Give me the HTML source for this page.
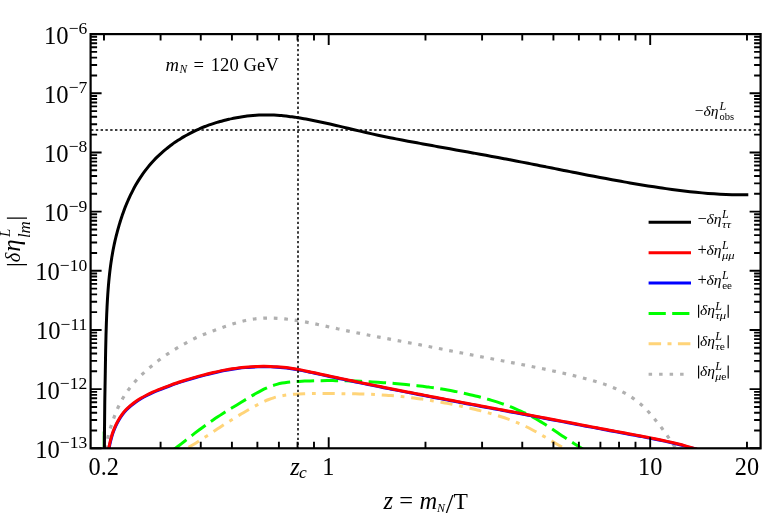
<!DOCTYPE html>
<html><head><meta charset="utf-8"><title>plot</title>
<style>html,body{margin:0;padding:0;background:#fff;}svg{display:block;will-change:transform;}text{font-family:"Liberation Serif",serif;fill:#000;}.i{font-style:italic;}</style>
</head><body>
<svg width="763" height="517" viewBox="0 0 763 517">
<rect x="0" y="0" width="763" height="517" fill="#fff"/>
<defs><clipPath id="cp"><rect x="90.60" y="34.10" width="670.00" height="414.80"/></clipPath></defs>
<g clip-path="url(#cp)" fill="none" stroke-linejoin="round">
<path d="M106.57 448.98 C106.68 447.58 106.84 443.37 107.27 440.60 C107.70 437.83 108.43 435.10 109.17 432.38 C109.91 429.66 110.81 426.97 111.69 424.29 C112.56 421.62 113.46 418.96 114.44 416.33 C115.43 413.70 116.45 411.09 117.60 408.52 C118.75 405.95 120.00 403.41 121.35 400.93 C122.71 398.45 124.17 396.01 125.72 393.66 C127.27 391.30 128.93 389.01 130.67 386.81 C132.41 384.61 134.26 382.50 136.16 380.44 C138.07 378.38 140.05 376.40 142.08 374.45 C144.10 372.50 146.19 370.60 148.31 368.75 C150.43 366.90 152.60 365.09 154.81 363.33 C157.02 361.58 159.27 359.87 161.55 358.21 C163.84 356.56 166.16 354.95 168.51 353.39 C170.86 351.84 173.24 350.34 175.65 348.89 C178.05 347.44 180.49 346.05 182.94 344.68 C185.40 343.30 187.88 341.92 190.39 340.63 C192.90 339.34 195.43 338.07 197.98 336.92 C200.54 335.76 203.12 334.73 205.72 333.70 C208.32 332.66 210.94 331.70 213.58 330.72 C216.21 329.73 218.86 328.74 221.53 327.79 C224.19 326.83 226.87 325.88 229.56 325.00 C232.25 324.12 234.96 323.26 237.68 322.50 C240.40 321.74 243.14 321.03 245.88 320.45 C248.63 319.86 251.40 319.36 254.17 318.99 C256.95 318.62 259.74 318.37 262.53 318.21 C265.33 318.06 268.14 318.02 270.94 318.06 C273.75 318.10 276.57 318.23 279.38 318.43 C282.18 318.63 285.00 318.91 287.80 319.24 C290.60 319.57 293.40 319.97 296.19 320.40 C298.97 320.83 301.75 321.31 304.52 321.81 C307.29 322.32 310.05 322.87 312.81 323.42 C315.57 323.98 318.32 324.57 321.07 325.16 C323.82 325.75 326.57 326.36 329.32 326.97 C332.07 327.57 334.82 328.17 337.57 328.77 C340.32 329.36 343.07 329.95 345.83 330.52 C348.58 331.10 351.34 331.67 354.10 332.23 C356.85 332.79 359.61 333.35 362.38 333.89 C365.14 334.44 367.90 334.98 370.66 335.52 C373.43 336.06 376.19 336.59 378.96 337.11 C381.72 337.64 384.49 338.16 387.26 338.68 C390.02 339.20 392.79 339.71 395.56 340.23 C398.33 340.75 401.10 341.26 403.86 341.78 C406.63 342.30 409.40 342.82 412.16 343.34 C414.93 343.86 417.69 344.39 420.45 344.92 C423.22 345.46 425.98 345.99 428.74 346.53 C431.50 347.07 434.26 347.62 437.02 348.16 C439.78 348.71 442.54 349.25 445.30 349.80 C448.06 350.34 450.82 350.89 453.59 351.43 C456.35 351.98 459.11 352.52 461.87 353.05 C464.64 353.59 467.40 354.12 470.17 354.65 C472.93 355.18 475.70 355.71 478.46 356.24 C481.23 356.77 484.00 357.29 486.76 357.82 C489.53 358.34 492.30 358.87 495.06 359.40 C497.83 359.92 500.60 360.45 503.36 360.98 C506.13 361.51 508.89 362.04 511.66 362.57 C514.42 363.10 517.19 363.64 519.95 364.18 C522.71 364.72 525.47 365.27 528.23 365.82 C530.99 366.37 533.75 366.92 536.50 367.48 C539.26 368.04 542.01 368.61 544.76 369.19 C547.52 369.76 550.27 370.34 553.01 370.94 C555.76 371.53 558.51 372.13 561.25 372.75 C563.99 373.36 566.74 373.99 569.48 374.64 C572.22 375.28 574.95 375.94 577.69 376.62 C580.43 377.30 583.17 377.99 585.89 378.72 C588.62 379.44 591.36 380.17 594.07 380.97 C596.78 381.76 599.48 382.58 602.15 383.47 C604.83 384.36 607.49 385.29 610.10 386.32 C612.72 387.34 615.31 388.42 617.85 389.61 C620.40 390.80 622.91 392.06 625.35 393.44 C627.80 394.82 630.21 396.30 632.53 397.88 C634.85 399.46 637.11 401.15 639.27 402.95 C641.43 404.74 643.50 406.66 645.49 408.65 C647.48 410.64 649.36 412.75 651.21 414.88 C653.06 417.00 654.84 419.20 656.60 421.40 C658.36 423.60 660.07 425.83 661.76 428.08 C663.44 430.33 665.09 432.61 666.71 434.90 C668.33 437.20 669.91 439.52 671.47 441.87 C673.03 444.21 675.29 447.78 676.06 448.96" stroke="#b0b0b0" stroke-width="3.2" stroke-dasharray="3.7 6.8" stroke-dashoffset="0.2"/>
<path d="M185.04 449.37 C185.78 448.95 188.02 447.68 189.50 446.81 C190.97 445.94 192.44 445.06 193.90 444.17 C195.36 443.28 196.82 442.37 198.26 441.46 C199.71 440.55 201.15 439.63 202.59 438.71 C204.03 437.78 205.46 436.85 206.90 435.92 C208.33 434.98 209.75 434.04 211.18 433.10 C212.61 432.16 214.03 431.22 215.46 430.28 C216.89 429.34 218.31 428.39 219.74 427.45 C221.17 426.52 222.60 425.58 224.04 424.65 C225.47 423.72 226.91 422.79 228.35 421.87 C229.79 420.95 231.24 420.04 232.70 419.14 C234.15 418.23 235.61 417.34 237.07 416.45 C238.54 415.56 240.01 414.68 241.49 413.81 C242.96 412.93 244.44 412.07 245.93 411.21 C247.42 410.35 248.91 409.50 250.41 408.66 C251.91 407.81 253.41 406.97 254.92 406.15 C256.43 405.33 257.95 404.51 259.48 403.74 C261.01 402.96 262.55 402.20 264.10 401.50 C265.65 400.79 267.22 400.11 268.80 399.50 C270.39 398.88 271.98 398.32 273.60 397.81 C275.22 397.31 276.86 396.88 278.51 396.49 C280.16 396.10 281.83 395.77 283.51 395.48 C285.18 395.19 286.88 394.96 288.57 394.75 C290.27 394.54 291.98 394.38 293.69 394.24 C295.40 394.10 297.11 394.00 298.83 393.91 C300.54 393.82 302.26 393.76 303.98 393.71 C305.69 393.65 307.41 393.62 309.12 393.59 C310.84 393.56 312.55 393.55 314.26 393.54 C315.98 393.53 317.69 393.53 319.40 393.54 C321.11 393.54 322.82 393.55 324.54 393.56 C326.25 393.56 327.96 393.57 329.67 393.58 C331.39 393.59 333.10 393.60 334.81 393.61 C336.53 393.62 338.24 393.63 339.95 393.64 C341.66 393.65 343.38 393.67 345.09 393.69 C346.80 393.70 348.52 393.72 350.23 393.75 C351.94 393.77 353.65 393.80 355.37 393.84 C357.08 393.87 358.79 393.91 360.50 393.95 C362.21 394.00 363.93 394.05 365.64 394.11 C367.35 394.17 369.06 394.23 370.77 394.31 C372.48 394.38 374.19 394.46 375.90 394.55 C377.61 394.64 379.31 394.74 381.02 394.85 C382.73 394.96 384.44 395.08 386.14 395.20 C387.85 395.33 389.55 395.46 391.26 395.61 C392.96 395.75 394.67 395.90 396.37 396.06 C398.08 396.22 399.78 396.39 401.48 396.57 C403.18 396.74 404.88 396.93 406.58 397.12 C408.28 397.32 409.98 397.52 411.68 397.73 C413.38 397.94 415.07 398.16 416.77 398.39 C418.47 398.62 420.16 398.85 421.85 399.10 C423.55 399.34 425.24 399.59 426.93 399.85 C428.63 400.11 430.32 400.38 432.01 400.65 C433.69 400.93 435.38 401.21 437.07 401.51 C438.76 401.80 440.44 402.10 442.13 402.40 C443.81 402.71 445.50 403.03 447.18 403.35 C448.86 403.67 450.54 404.00 452.22 404.34 C453.90 404.68 455.58 405.03 457.25 405.38 C458.93 405.73 460.60 406.09 462.28 406.46 C463.95 406.83 465.62 407.21 467.29 407.59 C468.96 407.97 470.63 408.36 472.30 408.76 C473.97 409.16 475.63 409.56 477.29 409.98 C478.96 410.39 480.62 410.81 482.28 411.24 C483.94 411.67 485.59 412.11 487.25 412.57 C488.90 413.02 490.55 413.48 492.19 413.96 C493.84 414.43 495.48 414.92 497.11 415.43 C498.74 415.93 500.37 416.45 502.00 416.99 C503.62 417.52 505.24 418.07 506.85 418.65 C508.45 419.22 510.06 419.80 511.65 420.41 C513.25 421.02 514.83 421.65 516.41 422.30 C517.99 422.95 519.56 423.63 521.12 424.32 C522.68 425.02 524.23 425.74 525.77 426.48 C527.31 427.23 528.83 428.00 530.35 428.79 C531.88 429.58 533.39 430.39 534.89 431.22 C536.39 432.04 537.89 432.89 539.38 433.74 C540.87 434.60 542.36 435.47 543.84 436.34 C545.32 437.21 546.80 438.09 548.27 438.97 C549.75 439.84 551.22 440.73 552.69 441.60 C554.17 442.48 555.64 443.36 557.11 444.22 C558.59 445.08 560.06 445.94 561.54 446.78 C563.02 447.62 565.25 448.85 565.99 449.26" stroke="#ffd479" stroke-width="3" stroke-dasharray="12.2 6.8 3.8 6.8" stroke-dashoffset="-4"/>
<path d="M172.50 450.31 C173.26 449.75 175.56 448.12 177.07 447.00 C178.58 445.88 180.07 444.74 181.56 443.59 C183.04 442.45 184.52 441.29 185.99 440.13 C187.47 438.97 188.94 437.81 190.41 436.65 C191.89 435.49 193.36 434.33 194.85 433.18 C196.34 432.04 197.83 430.90 199.34 429.77 C200.84 428.65 202.35 427.53 203.88 426.43 C205.40 425.33 206.93 424.24 208.47 423.16 C210.01 422.08 211.56 421.01 213.11 419.96 C214.67 418.90 216.23 417.86 217.80 416.83 C219.36 415.80 220.94 414.78 222.52 413.77 C224.10 412.76 225.68 411.77 227.27 410.78 C228.86 409.79 230.46 408.81 232.05 407.83 C233.65 406.85 235.25 405.88 236.86 404.91 C238.46 403.94 240.07 402.97 241.68 402.00 C243.29 401.03 244.90 400.06 246.51 399.08 C248.12 398.11 249.73 397.12 251.35 396.16 C252.98 395.19 254.60 394.22 256.24 393.30 C257.88 392.37 259.52 391.46 261.19 390.60 C262.86 389.74 264.55 388.91 266.26 388.16 C267.97 387.40 269.70 386.69 271.46 386.06 C273.21 385.42 274.99 384.85 276.79 384.35 C278.58 383.85 280.40 383.42 282.24 383.06 C284.07 382.70 285.92 382.44 287.78 382.21 C289.64 381.99 291.52 381.85 293.39 381.71 C295.27 381.58 297.15 381.48 299.03 381.39 C300.91 381.29 302.79 381.20 304.67 381.12 C306.56 381.04 308.44 380.97 310.32 380.91 C312.20 380.85 314.08 380.80 315.96 380.76 C317.84 380.72 319.72 380.68 321.60 380.66 C323.48 380.64 325.36 380.62 327.24 380.61 C329.12 380.61 331.00 380.61 332.87 380.62 C334.75 380.63 336.62 380.65 338.50 380.68 C340.38 380.70 342.25 380.74 344.12 380.78 C346.00 380.82 347.87 380.87 349.75 380.93 C351.62 380.99 353.49 381.05 355.37 381.12 C357.24 381.19 359.11 381.27 360.98 381.35 C362.86 381.44 364.73 381.53 366.60 381.63 C368.47 381.72 370.35 381.82 372.22 381.93 C374.09 382.04 375.96 382.15 377.84 382.27 C379.71 382.39 381.58 382.52 383.46 382.65 C385.33 382.78 387.20 382.91 389.08 383.05 C390.95 383.20 392.82 383.34 394.70 383.50 C396.57 383.65 398.44 383.81 400.32 383.98 C402.19 384.14 404.06 384.32 405.93 384.50 C407.80 384.68 409.67 384.87 411.54 385.07 C413.41 385.27 415.28 385.47 417.15 385.68 C419.02 385.90 420.89 386.12 422.75 386.35 C424.62 386.58 426.48 386.82 428.34 387.08 C430.20 387.33 432.07 387.59 433.92 387.86 C435.78 388.13 437.64 388.41 439.50 388.70 C441.35 388.99 443.20 389.29 445.06 389.60 C446.91 389.92 448.75 390.24 450.60 390.57 C452.45 390.91 454.29 391.26 456.13 391.62 C457.97 391.98 459.81 392.35 461.65 392.73 C463.48 393.12 465.32 393.52 467.14 393.93 C468.97 394.34 470.80 394.76 472.62 395.20 C474.45 395.64 476.27 396.09 478.08 396.56 C479.90 397.02 481.71 397.50 483.52 398.00 C485.33 398.50 487.13 399.01 488.93 399.53 C490.74 400.06 492.53 400.60 494.33 401.16 C496.12 401.71 497.91 402.29 499.69 402.88 C501.47 403.47 503.25 404.08 505.01 404.72 C506.78 405.35 508.54 406.00 510.29 406.68 C512.05 407.36 513.79 408.06 515.52 408.78 C517.25 409.51 518.97 410.26 520.68 411.04 C522.39 411.82 524.09 412.63 525.77 413.46 C527.46 414.30 529.13 415.16 530.79 416.04 C532.44 416.93 534.09 417.84 535.72 418.77 C537.35 419.70 538.97 420.65 540.58 421.63 C542.18 422.60 543.77 423.60 545.35 424.61 C546.93 425.62 548.49 426.65 550.06 427.68 C551.62 428.71 553.17 429.76 554.73 430.81 C556.28 431.85 557.83 432.91 559.39 433.95 C560.94 435.00 562.50 436.05 564.07 437.08 C565.63 438.11 567.21 439.14 568.79 440.15 C570.37 441.16 571.96 442.16 573.55 443.17 C575.14 444.17 576.73 445.17 578.31 446.18 C579.89 447.20 582.24 448.75 583.03 449.26" stroke="#00ff00" stroke-width="3" stroke-dasharray="17.5 6.5"/>
<path d="M108.57 450.08 C108.75 449.03 109.22 445.90 109.65 443.81 C110.08 441.72 110.58 439.61 111.16 437.53 C111.75 435.46 112.40 433.38 113.14 431.36 C113.88 429.33 114.70 427.32 115.60 425.37 C116.51 423.43 117.49 421.52 118.57 419.69 C119.65 417.86 120.81 416.07 122.06 414.39 C123.32 412.71 124.68 411.10 126.11 409.59 C127.55 408.07 129.08 406.65 130.68 405.30 C132.28 403.95 133.97 402.69 135.70 401.48 C137.43 400.27 139.24 399.14 141.08 398.06 C142.91 396.98 144.81 395.97 146.73 394.99 C148.65 394.02 150.61 393.10 152.58 392.21 C154.55 391.32 156.55 390.48 158.54 389.66 C160.53 388.84 162.53 388.05 164.53 387.28 C166.53 386.51 168.54 385.77 170.54 385.05 C172.55 384.33 174.56 383.64 176.58 382.96 C178.59 382.28 180.61 381.63 182.63 380.99 C184.66 380.35 186.68 379.73 188.71 379.12 C190.75 378.52 192.78 377.93 194.83 377.35 C196.87 376.77 198.91 376.20 200.97 375.65 C203.02 375.10 205.08 374.56 207.14 374.03 C209.21 373.51 211.28 373.00 213.35 372.51 C215.43 372.02 217.51 371.55 219.59 371.11 C221.68 370.66 223.77 370.24 225.87 369.85 C227.96 369.46 230.06 369.09 232.17 368.76 C234.28 368.43 236.39 368.13 238.51 367.87 C240.63 367.60 242.75 367.37 244.87 367.17 C247.00 366.98 249.13 366.81 251.26 366.68 C253.39 366.55 255.52 366.45 257.65 366.39 C259.79 366.32 261.92 366.29 264.05 366.30 C266.19 366.30 268.32 366.34 270.45 366.41 C272.58 366.48 274.71 366.58 276.84 366.72 C278.96 366.86 281.09 367.03 283.21 367.24 C285.32 367.44 287.44 367.69 289.55 367.97 C291.66 368.26 293.76 368.59 295.86 368.95 C297.95 369.31 300.04 369.73 302.13 370.15 C304.22 370.57 306.30 371.03 308.39 371.48 C310.47 371.93 312.55 372.39 314.63 372.84 C316.72 373.30 318.80 373.75 320.88 374.20 C322.97 374.65 325.05 375.10 327.13 375.55 C329.22 376.00 331.30 376.44 333.39 376.89 C335.47 377.33 337.56 377.77 339.64 378.21 C341.73 378.65 343.81 379.09 345.90 379.53 C347.99 379.96 350.07 380.40 352.16 380.83 C354.25 381.26 356.33 381.69 358.42 382.12 C360.51 382.55 362.60 382.98 364.68 383.41 C366.77 383.83 368.86 384.26 370.95 384.68 C373.04 385.11 375.12 385.53 377.21 385.95 C379.30 386.37 381.39 386.79 383.48 387.21 C385.57 387.62 387.66 388.04 389.75 388.46 C391.84 388.87 393.93 389.28 396.02 389.70 C398.11 390.11 400.20 390.52 402.30 390.93 C404.39 391.34 406.48 391.75 408.57 392.16 C410.66 392.57 412.75 392.97 414.85 393.38 C416.94 393.78 419.03 394.19 421.12 394.59 C423.21 395.00 425.31 395.40 427.40 395.80 C429.49 396.20 431.59 396.61 433.68 397.01 C435.77 397.41 437.87 397.81 439.96 398.20 C442.05 398.60 444.15 399.00 446.24 399.40 C448.33 399.80 450.43 400.19 452.52 400.59 C454.62 400.99 456.71 401.38 458.80 401.78 C460.90 402.17 462.99 402.57 465.09 402.96 C467.18 403.36 469.28 403.75 471.37 404.14 C473.47 404.54 475.56 404.93 477.65 405.32 C479.75 405.72 481.84 406.11 483.94 406.50 C486.03 406.90 488.13 407.29 490.22 407.68 C492.32 408.07 494.41 408.47 496.51 408.86 C498.60 409.25 500.70 409.64 502.79 410.03 C504.89 410.43 506.98 410.82 509.08 411.21 C511.17 411.60 513.27 412.00 515.36 412.39 C517.46 412.78 519.55 413.17 521.64 413.57 C523.74 413.96 525.83 414.35 527.93 414.75 C530.02 415.14 532.12 415.53 534.21 415.93 C536.31 416.32 538.40 416.72 540.49 417.11 C542.59 417.51 544.68 417.90 546.78 418.30 C548.87 418.70 550.96 419.09 553.06 419.49 C555.15 419.89 557.24 420.29 559.34 420.68 C561.43 421.08 563.52 421.48 565.62 421.88 C567.71 422.28 569.80 422.67 571.90 423.07 C573.99 423.47 576.08 423.87 578.18 424.27 C580.27 424.67 582.36 425.06 584.46 425.46 C586.55 425.86 588.65 426.26 590.74 426.65 C592.83 427.05 594.93 427.45 597.02 427.84 C599.11 428.24 601.21 428.63 603.30 429.03 C605.40 429.42 607.49 429.81 609.59 430.21 C611.68 430.60 613.78 430.99 615.87 431.38 C617.97 431.77 620.07 432.16 622.16 432.55 C624.26 432.93 626.35 433.32 628.45 433.71 C630.55 434.09 632.64 434.48 634.74 434.87 C636.84 435.26 638.93 435.65 641.03 436.04 C643.12 436.44 645.21 436.83 647.31 437.24 C649.40 437.65 651.49 438.05 653.58 438.47 C655.67 438.89 657.76 439.32 659.84 439.76 C661.93 440.20 664.01 440.64 666.09 441.10 C668.17 441.56 670.24 442.04 672.32 442.52 C674.39 443.01 676.46 443.51 678.53 444.03 C680.60 444.54 682.66 445.07 684.72 445.63 C686.78 446.18 688.83 446.74 690.88 447.33 C692.93 447.92 695.99 448.86 697.02 449.16" stroke="#0000ff" stroke-width="3" transform="translate(0.25,0.45)"/>
<path d="M108.57 450.08 C108.75 449.03 109.22 445.90 109.65 443.81 C110.08 441.72 110.58 439.61 111.16 437.53 C111.75 435.46 112.40 433.38 113.14 431.36 C113.88 429.33 114.70 427.32 115.60 425.37 C116.51 423.43 117.49 421.52 118.57 419.69 C119.65 417.86 120.81 416.07 122.06 414.39 C123.32 412.71 124.68 411.10 126.11 409.59 C127.55 408.07 129.08 406.65 130.68 405.30 C132.28 403.95 133.97 402.69 135.70 401.48 C137.43 400.27 139.24 399.14 141.08 398.06 C142.91 396.98 144.81 395.97 146.73 394.99 C148.65 394.02 150.61 393.10 152.58 392.21 C154.55 391.32 156.55 390.48 158.54 389.66 C160.53 388.84 162.53 388.05 164.53 387.28 C166.53 386.51 168.54 385.77 170.54 385.05 C172.55 384.33 174.56 383.64 176.58 382.96 C178.59 382.28 180.61 381.63 182.63 380.99 C184.66 380.35 186.68 379.73 188.71 379.12 C190.75 378.52 192.78 377.93 194.83 377.35 C196.87 376.77 198.91 376.20 200.97 375.65 C203.02 375.10 205.08 374.56 207.14 374.03 C209.21 373.51 211.28 373.00 213.35 372.51 C215.43 372.02 217.51 371.55 219.59 371.11 C221.68 370.66 223.77 370.24 225.87 369.85 C227.96 369.46 230.06 369.09 232.17 368.76 C234.28 368.43 236.39 368.13 238.51 367.87 C240.63 367.60 242.75 367.37 244.87 367.17 C247.00 366.98 249.13 366.81 251.26 366.68 C253.39 366.55 255.52 366.45 257.65 366.39 C259.79 366.32 261.92 366.29 264.05 366.30 C266.19 366.30 268.32 366.34 270.45 366.41 C272.58 366.48 274.71 366.58 276.84 366.72 C278.96 366.86 281.09 367.03 283.21 367.24 C285.32 367.44 287.44 367.69 289.55 367.97 C291.66 368.26 293.76 368.59 295.86 368.95 C297.95 369.31 300.04 369.73 302.13 370.15 C304.22 370.57 306.30 371.03 308.39 371.48 C310.47 371.93 312.55 372.39 314.63 372.84 C316.72 373.30 318.80 373.75 320.88 374.20 C322.97 374.65 325.05 375.10 327.13 375.55 C329.22 376.00 331.30 376.44 333.39 376.89 C335.47 377.33 337.56 377.77 339.64 378.21 C341.73 378.65 343.81 379.09 345.90 379.53 C347.99 379.96 350.07 380.40 352.16 380.83 C354.25 381.26 356.33 381.69 358.42 382.12 C360.51 382.55 362.60 382.98 364.68 383.41 C366.77 383.83 368.86 384.26 370.95 384.68 C373.04 385.11 375.12 385.53 377.21 385.95 C379.30 386.37 381.39 386.79 383.48 387.21 C385.57 387.62 387.66 388.04 389.75 388.46 C391.84 388.87 393.93 389.28 396.02 389.70 C398.11 390.11 400.20 390.52 402.30 390.93 C404.39 391.34 406.48 391.75 408.57 392.16 C410.66 392.57 412.75 392.97 414.85 393.38 C416.94 393.78 419.03 394.19 421.12 394.59 C423.21 395.00 425.31 395.40 427.40 395.80 C429.49 396.20 431.59 396.61 433.68 397.01 C435.77 397.41 437.87 397.81 439.96 398.20 C442.05 398.60 444.15 399.00 446.24 399.40 C448.33 399.80 450.43 400.19 452.52 400.59 C454.62 400.99 456.71 401.38 458.80 401.78 C460.90 402.17 462.99 402.57 465.09 402.96 C467.18 403.36 469.28 403.75 471.37 404.14 C473.47 404.54 475.56 404.93 477.65 405.32 C479.75 405.72 481.84 406.11 483.94 406.50 C486.03 406.90 488.13 407.29 490.22 407.68 C492.32 408.07 494.41 408.47 496.51 408.86 C498.60 409.25 500.70 409.64 502.79 410.03 C504.89 410.43 506.98 410.82 509.08 411.21 C511.17 411.60 513.27 412.00 515.36 412.39 C517.46 412.78 519.55 413.17 521.64 413.57 C523.74 413.96 525.83 414.35 527.93 414.75 C530.02 415.14 532.12 415.53 534.21 415.93 C536.31 416.32 538.40 416.72 540.49 417.11 C542.59 417.51 544.68 417.90 546.78 418.30 C548.87 418.70 550.96 419.09 553.06 419.49 C555.15 419.89 557.24 420.29 559.34 420.68 C561.43 421.08 563.52 421.48 565.62 421.88 C567.71 422.28 569.80 422.67 571.90 423.07 C573.99 423.47 576.08 423.87 578.18 424.27 C580.27 424.67 582.36 425.06 584.46 425.46 C586.55 425.86 588.65 426.26 590.74 426.65 C592.83 427.05 594.93 427.45 597.02 427.84 C599.11 428.24 601.21 428.63 603.30 429.03 C605.40 429.42 607.49 429.81 609.59 430.21 C611.68 430.60 613.78 430.99 615.87 431.38 C617.97 431.77 620.07 432.16 622.16 432.55 C624.26 432.93 626.35 433.32 628.45 433.71 C630.55 434.09 632.64 434.48 634.74 434.87 C636.84 435.26 638.93 435.65 641.03 436.04 C643.12 436.44 645.21 436.83 647.31 437.24 C649.40 437.65 651.49 438.05 653.58 438.47 C655.67 438.89 657.76 439.32 659.84 439.76 C661.93 440.20 664.01 440.64 666.09 441.10 C668.17 441.56 670.24 442.04 672.32 442.52 C674.39 443.01 676.46 443.51 678.53 444.03 C680.60 444.54 682.66 445.07 684.72 445.63 C686.78 446.18 688.83 446.74 690.88 447.33 C692.93 447.92 695.99 448.86 697.02 449.16" stroke="#ff0000" stroke-width="3"/>
<path d="M102.7 431.5 V448" stroke="#00e000" stroke-width="0.7" opacity="0.55"/>
<path d="M104.40 450.00 C104.40 449.00 104.42 446.00 104.43 444.00 C104.44 442.00 104.45 440.00 104.46 438.00 C104.47 436.00 104.48 434.00 104.49 432.00 C104.50 430.00 104.52 428.00 104.54 426.00 C104.56 424.00 104.58 422.00 104.60 420.00 C104.62 418.00 104.64 416.00 104.66 414.00 C104.68 412.00 104.70 410.00 104.72 408.00 C104.74 406.00 104.75 404.00 104.78 402.00 C104.81 400.00 104.84 398.00 104.87 396.00 C104.90 394.00 104.94 392.00 104.98 390.00 C105.01 388.00 105.05 386.00 105.08 384.00 C105.12 382.00 105.16 380.00 105.19 378.00 C105.23 376.00 105.28 373.02 105.30 372.00 C105.32 370.98 105.24 375.49 105.30 371.91 C105.36 368.32 105.53 356.58 105.65 350.47 C105.77 344.37 105.88 339.73 106.00 335.27 C106.12 330.80 106.23 327.16 106.35 323.70 C106.47 320.23 106.58 317.27 106.70 314.46 C106.82 311.65 106.93 309.19 107.05 306.84 C107.17 304.49 107.28 302.38 107.40 300.37 C107.52 298.36 107.63 296.53 107.75 294.77 C107.87 293.02 107.98 291.40 108.10 289.84 C108.22 288.29 108.33 286.84 108.45 285.44 C108.57 284.05 108.68 282.74 108.80 281.47 C108.92 280.20 109.03 279.01 109.15 277.85 C109.27 276.69 109.38 275.59 109.50 274.52 C109.62 273.45 109.73 272.43 109.85 271.44 C109.97 270.45 110.08 269.49 110.20 268.57 C110.32 267.64 110.43 266.75 110.55 265.88 C110.67 265.01 110.78 264.17 110.90 263.35 C111.02 262.53 111.13 261.73 111.25 260.95 C111.37 260.18 111.48 259.42 111.60 258.68 C111.72 257.95 111.88 256.93 111.95 256.52 C112.02 256.11 111.82 257.21 112.00 256.22 C112.18 255.23 112.67 252.37 113.00 250.58 C113.33 248.80 113.67 247.14 114.00 245.53 C114.33 243.93 114.67 242.41 115.00 240.94 C115.33 239.47 115.67 238.07 116.00 236.71 C116.33 235.34 116.67 234.04 117.00 232.77 C117.33 231.50 117.67 230.27 118.00 229.07 C118.33 227.88 118.67 226.72 119.00 225.58 C119.33 224.45 119.67 223.35 120.00 222.27 C120.33 221.20 120.67 220.15 121.00 219.12 C121.33 218.09 121.67 217.09 122.00 216.11 C122.33 215.12 122.67 214.17 123.00 213.23 C123.33 212.29 123.67 211.37 124.00 210.47 C124.33 209.57 124.67 208.70 125.00 207.83 C125.33 206.97 125.67 206.13 126.00 205.30 C126.33 204.48 126.67 203.67 127.00 202.87 C127.33 202.08 127.67 201.30 128.00 200.54 C128.33 199.77 128.67 199.03 129.00 198.29 C129.33 197.55 129.33 197.49 130.00 196.12 C130.67 194.76 132.00 191.99 133.00 190.08 C134.00 188.16 135.00 186.35 136.00 184.61 C137.00 182.88 138.00 181.24 139.00 179.65 C140.00 178.07 141.00 176.57 142.00 175.12 C143.00 173.67 144.00 172.29 145.00 170.95 C146.00 169.62 147.00 168.35 148.00 167.11 C149.00 165.88 150.00 164.70 151.00 163.56 C152.00 162.41 153.00 161.32 154.00 160.25 C155.00 159.19 156.00 158.17 157.00 157.18 C158.00 156.18 159.00 155.23 160.00 154.30 C161.00 153.37 162.00 152.48 163.00 151.61 C164.00 150.74 165.00 149.90 166.00 149.08 C167.00 148.26 168.00 147.47 169.00 146.70 C170.00 145.93 171.00 145.18 172.00 144.46 C173.00 143.73 174.00 143.03 175.00 142.34 C176.00 141.66 177.00 140.99 178.00 140.34 C179.00 139.69 180.00 139.06 181.00 138.45 C182.00 137.83 183.00 137.24 184.00 136.65 C185.00 136.07 186.00 135.50 187.00 134.95 C188.00 134.40 189.00 133.86 190.00 133.34 C191.00 132.82 192.00 132.31 193.00 131.81 C194.00 131.32 195.00 130.84 196.00 130.37 C197.00 129.91 198.00 129.45 199.00 129.01 C200.00 128.57 201.00 128.15 202.00 127.73 C203.00 127.32 204.00 126.91 205.00 126.52 C206.00 126.13 207.00 125.76 208.00 125.39 C209.00 125.02 210.00 124.67 211.00 124.32 C212.00 123.98 213.00 123.65 214.00 123.33 C215.00 123.00 216.00 122.69 217.00 122.39 C218.00 122.09 219.00 121.80 220.00 121.52 C221.00 121.24 222.00 120.97 223.00 120.71 C224.00 120.45 225.00 120.19 226.00 119.95 C227.00 119.71 228.00 119.47 229.00 119.25 C230.00 119.02 231.00 118.81 232.00 118.60 C233.00 118.39 234.00 118.19 235.00 118.00 C236.00 117.81 237.00 117.63 238.00 117.45 C239.00 117.28 240.00 117.11 241.00 116.96 C242.00 116.80 243.00 116.65 244.00 116.51 C245.00 116.37 246.00 116.23 247.00 116.11 C248.00 115.99 249.00 115.88 250.00 115.77 C251.00 115.67 252.00 115.57 253.00 115.48 C254.00 115.40 255.00 115.32 256.00 115.25 C257.00 115.19 258.00 115.13 259.00 115.08 C260.00 115.03 261.00 114.99 262.00 114.96 C263.00 114.93 264.00 114.91 265.00 114.90 C266.00 114.89 267.00 114.89 268.00 114.89 C269.00 114.90 270.00 114.92 271.00 114.95 C272.00 114.97 273.00 115.01 274.00 115.05 C275.00 115.10 276.00 115.15 277.00 115.22 C278.00 115.28 279.00 115.35 280.00 115.43 C281.00 115.52 282.00 115.61 283.00 115.70 C284.00 115.80 285.00 115.91 286.00 116.02 C287.00 116.14 288.00 116.26 289.00 116.39 C290.00 116.51 291.00 116.65 292.00 116.79 C293.00 116.93 294.00 117.08 295.00 117.23 C296.00 117.38 297.17 117.57 298.00 117.70 C298.83 117.83 298.67 117.80 300.00 118.03 C301.33 118.26 304.00 118.73 306.00 119.10 C308.00 119.47 310.00 119.85 312.00 120.25 C314.00 120.65 316.00 121.06 318.00 121.48 C320.00 121.89 322.00 122.32 324.00 122.76 C326.00 123.19 328.00 123.63 330.00 124.08 C332.00 124.53 334.00 124.98 336.00 125.44 C338.00 125.91 340.00 126.38 342.00 126.85 C344.00 127.32 346.00 127.80 348.00 128.28 C350.00 128.76 352.00 129.24 354.00 129.71 C356.00 130.19 358.00 130.66 360.00 131.13 C362.00 131.60 364.00 132.07 366.00 132.53 C368.00 132.99 370.00 133.44 372.00 133.89 C374.00 134.33 376.00 134.77 378.00 135.20 C380.00 135.63 382.00 136.06 384.00 136.47 C386.00 136.89 388.00 137.30 390.00 137.70 C392.00 138.10 394.00 138.49 396.00 138.89 C398.00 139.28 400.00 139.66 402.00 140.04 C404.00 140.42 406.00 140.80 408.00 141.17 C410.00 141.54 412.00 141.91 414.00 142.28 C416.00 142.65 418.00 143.02 420.00 143.39 C422.00 143.76 424.00 144.12 426.00 144.49 C428.00 144.85 430.00 145.22 432.00 145.58 C434.00 145.94 436.00 146.31 438.00 146.67 C440.00 147.03 442.00 147.39 444.00 147.75 C446.00 148.11 448.00 148.47 450.00 148.83 C452.00 149.19 454.00 149.55 456.00 149.91 C458.00 150.27 460.00 150.63 462.00 150.99 C464.00 151.35 466.00 151.71 468.00 152.07 C470.00 152.43 472.00 152.79 474.00 153.15 C476.00 153.52 478.00 153.88 480.00 154.24 C482.00 154.61 484.00 154.97 486.00 155.34 C488.00 155.70 490.00 156.07 492.00 156.44 C494.00 156.81 496.00 157.18 498.00 157.56 C500.00 157.93 502.00 158.30 504.00 158.68 C506.00 159.06 508.00 159.43 510.00 159.82 C512.00 160.20 514.00 160.58 516.00 160.97 C518.00 161.35 520.00 161.74 522.00 162.13 C524.00 162.52 526.00 162.91 528.00 163.30 C530.00 163.69 532.00 164.09 534.00 164.48 C536.00 164.88 538.00 165.27 540.00 165.67 C542.00 166.06 544.00 166.46 546.00 166.86 C548.00 167.26 550.00 167.66 552.00 168.05 C554.00 168.45 556.00 168.85 558.00 169.25 C560.00 169.64 562.00 170.04 564.00 170.44 C566.00 170.84 568.00 171.23 570.00 171.63 C572.00 172.02 574.00 172.42 576.00 172.81 C578.00 173.21 580.00 173.60 582.00 173.99 C584.00 174.38 586.00 174.77 588.00 175.16 C590.00 175.54 592.00 175.93 594.00 176.31 C596.00 176.70 598.00 177.08 600.00 177.46 C602.00 177.83 604.00 178.21 606.00 178.58 C608.00 178.96 610.00 179.33 612.00 179.69 C614.00 180.06 616.00 180.43 618.00 180.79 C620.00 181.15 622.00 181.50 624.00 181.86 C626.00 182.21 628.00 182.56 630.00 182.91 C632.00 183.25 634.00 183.59 636.00 183.93 C638.00 184.27 640.00 184.60 642.00 184.93 C644.00 185.25 646.00 185.58 648.00 185.90 C650.00 186.21 652.00 186.53 654.00 186.83 C656.00 187.14 658.00 187.44 660.00 187.74 C662.00 188.03 664.00 188.33 666.00 188.61 C668.00 188.89 670.00 189.17 672.00 189.44 C674.00 189.71 676.00 189.98 678.00 190.24 C680.00 190.49 682.00 190.74 684.00 190.98 C686.00 191.22 688.00 191.45 690.00 191.67 C692.00 191.89 694.00 192.11 696.00 192.31 C698.00 192.51 700.00 192.70 702.00 192.88 C704.00 193.06 706.00 193.23 708.00 193.39 C710.00 193.54 712.00 193.69 714.00 193.82 C716.00 193.95 718.00 194.07 720.00 194.17 C722.00 194.28 724.00 194.37 726.00 194.45 C728.00 194.52 730.00 194.59 732.00 194.64 C734.00 194.69 736.00 194.73 738.00 194.75 C740.00 194.77 742.28 194.78 744.00 194.78 C745.72 194.77 747.58 194.75 748.30 194.74" stroke="#000" stroke-width="3"/>
</g>
<g stroke="#000" stroke-width="1.5" stroke-dasharray="2.4 2.4" stroke-dashoffset="-0.4" fill="none">
<path d="M90.60 130.00 H760.60"/>
<path d="M298.00 34.10 V448.30"/>
</g>
<path d="M90.60 34.10 h11.0 M760.60 34.10 h-11.0 M90.60 75.46 h6.5 M760.60 75.46 h-6.5 M90.60 65.04 h6.5 M760.60 65.04 h-6.5 M90.60 57.65 h6.5 M760.60 57.65 h-6.5 M90.60 51.91 h6.5 M760.60 51.91 h-6.5 M90.60 47.23 h6.5 M760.60 47.23 h-6.5 M90.60 43.27 h6.5 M760.60 43.27 h-6.5 M90.60 39.83 h6.5 M760.60 39.83 h-6.5 M90.60 36.81 h6.5 M760.60 36.81 h-6.5 M90.60 93.27 h11.0 M760.60 93.27 h-11.0 M90.60 134.63 h6.5 M760.60 134.63 h-6.5 M90.60 124.21 h6.5 M760.60 124.21 h-6.5 M90.60 116.82 h6.5 M760.60 116.82 h-6.5 M90.60 111.08 h6.5 M760.60 111.08 h-6.5 M90.60 106.40 h6.5 M760.60 106.40 h-6.5 M90.60 102.44 h6.5 M760.60 102.44 h-6.5 M90.60 99.01 h6.5 M760.60 99.01 h-6.5 M90.60 95.98 h6.5 M760.60 95.98 h-6.5 M90.60 152.44 h11.0 M760.60 152.44 h-11.0 M90.60 193.80 h6.5 M760.60 193.80 h-6.5 M90.60 183.38 h6.5 M760.60 183.38 h-6.5 M90.60 175.99 h6.5 M760.60 175.99 h-6.5 M90.60 170.26 h6.5 M760.60 170.26 h-6.5 M90.60 165.57 h6.5 M760.60 165.57 h-6.5 M90.60 161.61 h6.5 M760.60 161.61 h-6.5 M90.60 158.18 h6.5 M760.60 158.18 h-6.5 M90.60 155.15 h6.5 M760.60 155.15 h-6.5 M90.60 211.61 h11.0 M760.60 211.61 h-11.0 M90.60 252.97 h6.5 M760.60 252.97 h-6.5 M90.60 242.55 h6.5 M760.60 242.55 h-6.5 M90.60 235.16 h6.5 M760.60 235.16 h-6.5 M90.60 229.43 h6.5 M760.60 229.43 h-6.5 M90.60 224.74 h6.5 M760.60 224.74 h-6.5 M90.60 220.78 h6.5 M760.60 220.78 h-6.5 M90.60 217.35 h6.5 M760.60 217.35 h-6.5 M90.60 214.32 h6.5 M760.60 214.32 h-6.5 M90.60 270.79 h11.0 M760.60 270.79 h-11.0 M90.60 312.14 h6.5 M760.60 312.14 h-6.5 M90.60 301.73 h6.5 M760.60 301.73 h-6.5 M90.60 294.33 h6.5 M760.60 294.33 h-6.5 M90.60 288.60 h6.5 M760.60 288.60 h-6.5 M90.60 283.91 h6.5 M760.60 283.91 h-6.5 M90.60 279.95 h6.5 M760.60 279.95 h-6.5 M90.60 276.52 h6.5 M760.60 276.52 h-6.5 M90.60 273.49 h6.5 M760.60 273.49 h-6.5 M90.60 329.96 h11.0 M760.60 329.96 h-11.0 M90.60 371.32 h6.5 M760.60 371.32 h-6.5 M90.60 360.90 h6.5 M760.60 360.90 h-6.5 M90.60 353.50 h6.5 M760.60 353.50 h-6.5 M90.60 347.77 h6.5 M760.60 347.77 h-6.5 M90.60 343.08 h6.5 M760.60 343.08 h-6.5 M90.60 339.12 h6.5 M760.60 339.12 h-6.5 M90.60 335.69 h6.5 M760.60 335.69 h-6.5 M90.60 332.66 h6.5 M760.60 332.66 h-6.5 M90.60 389.13 h11.0 M760.60 389.13 h-11.0 M90.60 430.49 h6.5 M760.60 430.49 h-6.5 M90.60 420.07 h6.5 M760.60 420.07 h-6.5 M90.60 412.68 h6.5 M760.60 412.68 h-6.5 M90.60 406.94 h6.5 M760.60 406.94 h-6.5 M90.60 402.26 h6.5 M760.60 402.26 h-6.5 M90.60 398.29 h6.5 M760.60 398.29 h-6.5 M90.60 394.86 h6.5 M760.60 394.86 h-6.5 M90.60 391.84 h6.5 M760.60 391.84 h-6.5 M90.60 448.30 h11.0 M760.60 448.30 h-11.0 M103.98 448.30 v-6.5 M103.98 34.10 v6.5 M160.59 448.30 v-6.5 M160.59 34.10 v6.5 M200.76 448.30 v-6.5 M200.76 34.10 v6.5 M231.92 448.30 v-6.5 M231.92 34.10 v6.5 M257.38 448.30 v-6.5 M257.38 34.10 v6.5 M278.90 448.30 v-6.5 M278.90 34.10 v6.5 M297.54 448.30 v-6.5 M297.54 34.10 v6.5 M313.99 448.30 v-6.5 M313.99 34.10 v6.5 M328.70 448.30 v-11.0 M328.70 34.10 v11.0 M425.48 448.30 v-6.5 M425.48 34.10 v6.5 M482.09 448.30 v-6.5 M482.09 34.10 v6.5 M522.26 448.30 v-6.5 M522.26 34.10 v6.5 M553.42 448.30 v-6.5 M553.42 34.10 v6.5 M578.88 448.30 v-6.5 M578.88 34.10 v6.5 M600.40 448.30 v-6.5 M600.40 34.10 v6.5 M619.04 448.30 v-6.5 M619.04 34.10 v6.5 M635.49 448.30 v-6.5 M635.49 34.10 v6.5 M650.20 448.30 v-11.0 M650.20 34.10 v11.0 M746.98 448.30 v-6.5 M746.98 34.10 v6.5" stroke="#000" stroke-width="1.90" fill="none"/>
<rect x="90.60" y="34.10" width="670.00" height="414.20" fill="none" stroke="#000" stroke-width="2.2"/>
<text x="87.4" y="43.50" text-anchor="end" font-size="24.6"><tspan>10</tspan><tspan font-size="17.6" dy="-9.4">−6</tspan></text>
<text x="87.4" y="102.67" text-anchor="end" font-size="24.6"><tspan>10</tspan><tspan font-size="17.6" dy="-9.4">−7</tspan></text>
<text x="87.4" y="161.84" text-anchor="end" font-size="24.6"><tspan>10</tspan><tspan font-size="17.6" dy="-9.4">−8</tspan></text>
<text x="87.4" y="221.01" text-anchor="end" font-size="24.6"><tspan>10</tspan><tspan font-size="17.6" dy="-9.4">−9</tspan></text>
<text x="87.4" y="280.19" text-anchor="end" font-size="24.6"><tspan>10</tspan><tspan font-size="17.6" dy="-9.4">−10</tspan></text>
<text x="87.4" y="339.36" text-anchor="end" font-size="24.6"><tspan>10</tspan><tspan font-size="17.6" dy="-9.4">−11</tspan></text>
<text x="87.4" y="398.53" text-anchor="end" font-size="24.6"><tspan>10</tspan><tspan font-size="17.6" dy="-9.4">−12</tspan></text>
<text x="87.4" y="457.70" text-anchor="end" font-size="24.6"><tspan>10</tspan><tspan font-size="17.6" dy="-9.4">−13</tspan></text>
<text x="103.78" y="474.50" text-anchor="middle" font-size="24.3">0.2</text>
<text x="328.40" y="474.50" text-anchor="middle" font-size="24.3">1</text>
<text x="650.20" y="474.50" text-anchor="middle" font-size="24.3">10</text>
<text x="746.98" y="474.50" text-anchor="middle" font-size="24.3">20</text>
<text x="290.2" y="474.50" font-size="24.3" class="i">z<tspan font-size="17.5" dy="3.6" dx="-0.6">c</tspan></text>
<text y="509.2" font-size="24.5"><tspan x="383.6" class="i">z</tspan><tspan x="399.3">=</tspan><tspan x="419.6" class="i">m</tspan><tspan x="436.9" class="i" font-size="12" dy="2.6">N</tspan><tspan x="445.8" dy="1.0" font-size="28">/</tspan><tspan x="453.6" dy="-3.6" font-size="23.5">T</tspan></text>
<text y="70.6" font-size="18.6"><tspan x="165.4" class="i">m</tspan><tspan x="179.4" class="i" font-size="11.5" dy="2.3">N</tspan><tspan x="193.4" dy="-2.3">=</tspan><tspan x="210.8">120</tspan><tspan x="243.6">GeV</tspan></text>
<g transform="translate(20.1,264.7) rotate(-90)"><path d="M0 -13.2 V6.9 M46.5 -13.2 V6.9" stroke="#000" stroke-width="1.3" fill="none"/><text x="2.5" y="0" font-size="20.5" class="i">δ</text><text x="13.0" y="0" font-size="25" class="i">η</text><text x="27.6" y="-10.6" font-size="15" class="i">L</text><text x="26.6" y="10.0" font-size="17" class="i">lm</text></g>
<g transform="translate(694.8,116)"><text x="0" y="0" font-size="15.6">−<tspan class="i">δη</tspan></text><text x="24.6" y="-5.8" font-size="12" class="i">L</text><text x="24.6" y="4.0" font-size="10.5">obs</text></g>
<g fill="none" stroke-width="3">
<path d="M648.6 222.25 H691.0" stroke="#000"/>
<path d="M648.6 252.65 H691.0" stroke="#ff0000"/>
<path d="M648.6 283.05 H691.0" stroke="#0000ff"/>
<path d="M648.6 313.45 H691.0" stroke="#00ff00" stroke-dasharray="17.2 6.4"/>
<path d="M648.6 343.85 H691.0" stroke="#ffd479" stroke-dasharray="12.5 6.4 4 6.4"/>
<path d="M648.6 374.25 H686.0" stroke="#b2b2b2" stroke-dasharray="3.5 7"/>
</g>
<g transform="translate(697.60,224.15)"><text x="0" y="0.3" font-size="16.5">−</text><text x="9.0" y="0" font-size="15.6" class="i">δη</text>
<text x="24.30" y="-5.8" font-size="12" class="i">L</text>
<text transform="translate(24.40,4.1) scale(1.15,1)" font-size="11" class="i">ττ</text>
</g>
<g transform="translate(697.60,254.55)"><text x="0" y="0.3" font-size="16.5">+</text><text x="9.0" y="0" font-size="15.6" class="i">δη</text>
<text x="24.30" y="-5.8" font-size="12" class="i">L</text>
<text transform="translate(24.40,4.1) scale(1.15,1)" font-size="11" class="i">μμ</text>
</g>
<g transform="translate(697.60,284.95)"><text x="0" y="0.3" font-size="16.5">+</text><text x="9.0" y="0" font-size="15.6" class="i">δη</text>
<text x="24.30" y="-5.8" font-size="12" class="i">L</text>
<text transform="translate(24.60,4.1) scale(1.05,1)" font-size="10.5">ee</text>
</g>
<g transform="translate(696.70,315.35)"><path d="M1.9 -10.6 V2.4" stroke="#000" stroke-width="1.15" fill="none"/><text x="3.2" y="0" font-size="15.6" class="i">δη</text>
<text x="18.50" y="-5.8" font-size="12" class="i">L</text>
<text transform="translate(18.60,4.1) scale(1.15,1)" font-size="11" class="i">τμ</text>
<path d="M31.5 -10.6 V2.4" stroke="#000" stroke-width="1.15" fill="none"/>
</g>
<g transform="translate(696.70,345.75)"><path d="M1.9 -10.6 V2.4" stroke="#000" stroke-width="1.15" fill="none"/><text x="3.2" y="0" font-size="15.6" class="i">δη</text>
<text x="18.50" y="-5.8" font-size="12" class="i">L</text>
<text transform="translate(18.60,4.1) scale(1.1,1)" font-size="11"><tspan class="i">τ</tspan><tspan font-size="10.5">e</tspan></text>
<path d="M31.5 -10.6 V2.4" stroke="#000" stroke-width="1.15" fill="none"/>
</g>
<g transform="translate(696.70,376.15)"><path d="M1.9 -10.6 V2.4" stroke="#000" stroke-width="1.15" fill="none"/><text x="3.2" y="0" font-size="15.6" class="i">δη</text>
<text x="18.50" y="-5.8" font-size="12" class="i">L</text>
<text transform="translate(18.60,4.1) scale(1.1,1)" font-size="11"><tspan class="i">μ</tspan><tspan font-size="10.5">e</tspan></text>
<path d="M31.5 -10.6 V2.4" stroke="#000" stroke-width="1.15" fill="none"/>
</g>
</svg></body></html>
